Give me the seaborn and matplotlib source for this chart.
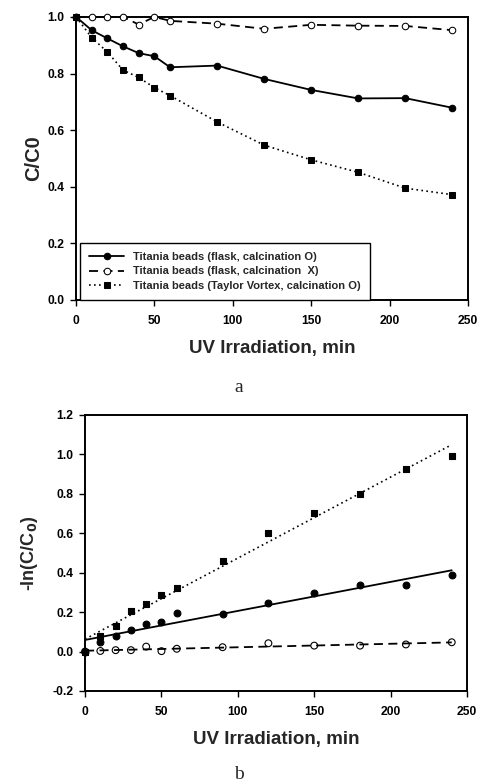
import matplotlib
matplotlib.use("Agg")
import matplotlib.pyplot as plt
import seaborn as sns

# ---------------- data ----------------
time_min = [0, 10, 20, 30, 40, 50, 60, 90, 120, 150, 180, 210, 240]

# (a) C/C0
flask_calc_O = [1.0, 0.953, 0.924, 0.896, 0.872, 0.861, 0.822, 0.828, 0.781, 0.742, 0.712, 0.713, 0.679]
flask_calc_X = [1.0, 1.0, 1.0, 1.0, 0.973, 1.0, 0.986, 0.976, 0.958, 0.972, 0.969, 0.968, 0.953]
taylor_calc_O = [1.0, 0.927, 0.876, 0.812, 0.786, 0.75, 0.722, 0.629, 0.547, 0.495, 0.451, 0.395, 0.372]

# (b) -ln(C/C0)
ln_flask_calc_O = [0.0, 0.05, 0.08, 0.11, 0.14, 0.15, 0.197, 0.19, 0.248, 0.298, 0.34, 0.34, 0.388]
ln_flask_calc_X = [0.0, 0.003, 0.007, 0.007, 0.025, 0.002, 0.014, 0.022, 0.042, 0.03, 0.03, 0.036, 0.047]
ln_taylor_calc_O = [0.0, 0.078, 0.13, 0.207, 0.242, 0.285, 0.324, 0.459, 0.602, 0.705, 0.798, 0.928, 0.992]

series_labels = [
    "Titania beads (flask, calcination O)",
    "Titania beads (flask, calcination  X)",
    "Titania beads (Taylor Vortex, calcination O)",
]

x_ticks = [0, 50, 100, 150, 200, 250]
y_ticks_a = [0.0, 0.2, 0.4, 0.6, 0.8, 1.0]
y_ticks_b = [-0.2, 0.0, 0.2, 0.4, 0.6, 0.8, 1.0, 1.2]

# ---------------- style ----------------
sns.set_theme(style="ticks")
plt.rcParams["font.family"] = ["Liberation Sans", "DejaVu Sans"]
plt.rcParams["font.weight"] = "bold"
plt.rcParams["axes.unicode_minus"] = False
plt.rcParams["mathtext.default"] = "bf"

DASH = (0, (5, 3))
DOT = (0, (1, 2))

fig = plt.figure(figsize=(4.78, 7.82), dpi=100)
ax1 = fig.add_axes([0.159, 0.6164, 0.820, 0.362])
ax2 = fig.add_axes([0.178, 0.1164, 0.799, 0.353])

# ---------------- panel a ----------------
ms = 4.7
sns.lineplot(x=time_min, y=flask_calc_O, ax=ax1, color="black", lw=1.3,
             marker="o", markersize=ms, markerfacecolor="black", markeredgecolor="black",
             label=series_labels[0], clip_on=False, zorder=3)
sns.lineplot(x=time_min, y=flask_calc_X, ax=ax1, color="black", lw=1.3, linestyle=DASH,
             marker="o", markersize=ms, markerfacecolor="white", markeredgecolor="black",
             label=series_labels[1], clip_on=False, zorder=3)
sns.lineplot(x=time_min, y=taylor_calc_O, ax=ax1, color="black", lw=1.2, linestyle=DOT,
             marker="s", markersize=ms, markerfacecolor="black", markeredgecolor="black",
             label=series_labels[2], clip_on=False, zorder=3)

ax1.set_xlim(0, 250)
ax1.set_ylim(0, 1.0)
ax1.set_xticks(x_ticks)
ax1.set_yticks(y_ticks_a)
ax1.set_yticklabels([f"{v:.1f}" for v in y_ticks_a])
ax1.set_xlabel("UV Irradiation, min", fontsize=13.5, fontweight="bold", labelpad=10)
ax1.set_ylabel("C/C0", fontsize=14.5, fontweight="bold", labelpad=3)
leg = ax1.legend(loc="lower left", bbox_to_anchor=(0.01, 0.0), borderaxespad=0.0,
                 fancybox=False, edgecolor="black", framealpha=1,
                 prop={"size": 8, "weight": "bold"}, handlelength=3.2,
                 labelspacing=0.42, borderpad=0.8, handletextpad=0.8)
leg.get_frame().set_linewidth(1.0)

# ---------------- panel b ----------------
sns.scatterplot(x=time_min, y=ln_flask_calc_O, ax=ax2, marker="o", s=24,
                color="black", edgecolor="black", linewidth=0.8, clip_on=False, zorder=3)
sns.scatterplot(x=time_min, y=ln_flask_calc_X, ax=ax2, marker="o", s=24,
                facecolor="none", edgecolor="black", linewidth=0.8, clip_on=False, zorder=3)
sns.scatterplot(x=time_min, y=ln_taylor_calc_O, ax=ax2, marker="s", s=24,
                color="black", edgecolor="black", linewidth=0.8, clip_on=False, zorder=3)

sns.regplot(x=time_min, y=ln_flask_calc_O, ax=ax2, scatter=False, ci=None,
            line_kws=dict(color="black", lw=1.3, zorder=4))
sns.regplot(x=time_min, y=ln_flask_calc_X, ax=ax2, scatter=False, ci=None,
            line_kws=dict(color="black", lw=1.3, linestyle=DASH, zorder=4))
sns.regplot(x=time_min, y=ln_taylor_calc_O, ax=ax2, scatter=False, ci=None,
            line_kws=dict(color="black", lw=1.2, linestyle=DOT, zorder=4))

ax2.set_xlim(0, 250)
ax2.set_ylim(-0.2, 1.2)
ax2.set_xticks(x_ticks)
ax2.set_yticks(y_ticks_b)
ax2.set_yticklabels([f"{v:.1f}" for v in y_ticks_b])
ax2.set_xlabel("UV Irradiation, min", fontsize=13.5, fontweight="bold", labelpad=10)
ax2.set_ylabel(r"-ln(C/C$_0$)", fontsize=13, fontweight="bold", labelpad=9)

for ax in (ax1, ax2):
    for sp in ax.spines.values():
        sp.set_visible(True)
        sp.set_linewidth(1.4)
        sp.set_color("black")
    ax.tick_params(direction="out", length=4.5, width=1.0, colors="black",
                   labelsize=8.7, pad=4)
    ax.tick_params(axis="x", pad=6)
    for lab in ax.get_xticklabels() + ax.get_yticklabels():
        lab.set_fontweight("bold")

fig.text(0.5, 1 - 392 / 782, "a", ha="center", va="baseline",
         family="Liberation Serif", fontsize=14, fontweight="normal")
fig.text(0.5, 1 - 779 / 782, "b", ha="center", va="baseline",
         family="Liberation Serif", fontsize=14, fontweight="normal")

fig.savefig("out.png", dpi=100, facecolor="white")
